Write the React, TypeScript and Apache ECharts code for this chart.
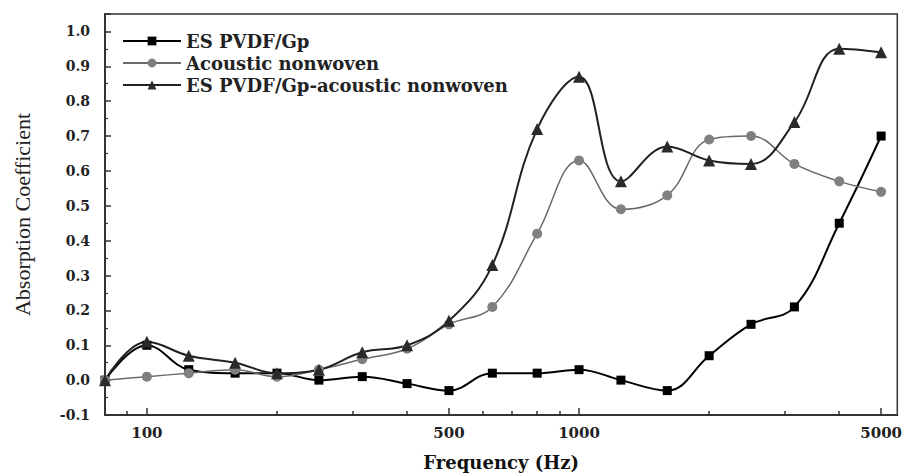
import React, { useEffect, useRef } from "react";
import * as echarts from "echarts";

const frequencies = [80, 100, 125, 160, 200, 250, 315, 400, 500, 630, 800, 1000, 1250, 1600, 2000, 2500, 3150, 4000, 5000];
const esPvdfGp = [0.0, 0.1, 0.03, 0.02, 0.02, 0.0, 0.01, -0.01, -0.03, 0.02, 0.02, 0.03, 0.0, -0.03, 0.07, 0.16, 0.21, 0.45, 0.7];
const acousticNonwoven = [0.0, 0.01, 0.02, 0.03, 0.01, 0.03, 0.06, 0.09, 0.16, 0.21, 0.42, 0.63, 0.49, 0.53, 0.69, 0.7, 0.62, 0.57, 0.54];
const composite = [0.0, 0.11, 0.07, 0.05, 0.02, 0.03, 0.08, 0.1, 0.17, 0.33, 0.72, 0.87, 0.57, 0.67, 0.63, 0.62, 0.74, 0.95, 0.94];
const seriesNames = ["ES PVDF/Gp", "Acoustic nonwoven", "ES PVDF/Gp-acoustic nonwoven"];
const majorTicks = [100, 500, 1000, 5000];
const minorTicks = [90, 200, 300, 400, 600, 700, 800, 900, 2000, 3000, 4000];
const xMin = 80;
const xMax = 5450;

const toPairs = (vals: number[]) => frequencies.map((f, i) => [Math.log10(f), vals[i]]);

export default function App() {
  const ref = useRef<HTMLDivElement>(null);
  useEffect(() => {
    if (!ref.current) return;
    const chart = echarts.init(ref.current, undefined, { renderer: "svg" });
    const axisColor = "#333";
    const bold = { fontFamily: "DejaVu Serif", fontWeight: "bold" as const, color: "#222" };
    const commonX = {
      type: "value" as const,
      min: Math.log10(xMin),
      max: Math.log10(xMax),
      splitLine: { show: false },
    };
    chart.setOption({
      animation: false,
      backgroundColor: "#fff",
      grid: { left: 105, right: 5, top: 14, bottom: 52, show: true, borderColor: axisColor, borderWidth: 1.5, backgroundColor: "transparent" },
      legend: {
        orient: "vertical",
        left: 117,
        top: 27,
        itemWidth: 58,
        itemHeight: 11,
        itemGap: 4,
        textStyle: { ...bold, fontSize: 18 },
        data: seriesNames,
      },
      xAxis: [
        {
          ...commonX,
          name: "Frequency (Hz)",
          nameLocation: "middle",
          nameGap: 38,
          nameTextStyle: { ...bold, fontSize: 18, color: "#111" },
          axisLine: { onZero: false, lineStyle: { color: axisColor, width: 2 } },
          axisTick: { show: true, inside: true, length: 7, customValues: majorTicks.map(Math.log10), lineStyle: { color: axisColor, width: 1.5 } },
          axisLabel: {
            ...bold,
            fontSize: 15,
            margin: 10,
            customValues: majorTicks.map(Math.log10),
            formatter: (v: number) => String(Math.round(Math.pow(10, v))),
          },
        },
        {
          ...commonX,
          position: "bottom",
          axisLine: { show: false, onZero: false },
          axisTick: { show: true, inside: true, length: 4, customValues: minorTicks.map(Math.log10), lineStyle: { color: axisColor, width: 1.5 } },
          axisLabel: { show: false },
        },
      ],
      yAxis: {
        type: "value",
        min: -0.1,
        max: 1.05,
        interval: 0.1,
        name: "Absorption Coefficient",
        nameLocation: "middle",
        nameGap: 72,
        nameTextStyle: { fontFamily: "Liberation Serif", fontSize: 22, color: "#222" },
        splitLine: { show: false },
        axisLine: { show: true, onZero: false, lineStyle: { color: axisColor, width: 2 } },
        axisTick: { show: true, inside: true, length: 6, lineStyle: { color: axisColor, width: 1.5 } },
        minorTick: { show: true, splitNumber: 2, length: 3, lineStyle: { color: axisColor, width: 1.2 } },
        axisLabel: {
          ...bold,
          fontSize: 14,
          margin: 15,
          formatter: (v: number) => (Math.abs(v * 10 - Math.round(v * 10)) < 1e-6 ? v.toFixed(1) : ""),
        },
      },
      series: [
        {
          name: seriesNames[0],
          type: "line",
          smooth: 0.4,
          data: toPairs(esPvdfGp),
          symbol: "rect",
          symbolSize: 9,
          itemStyle: { color: "#000" },
          lineStyle: { color: "#000", width: 2 },
        },
        {
          name: seriesNames[1],
          type: "line",
          smooth: 0.4,
          data: toPairs(acousticNonwoven),
          symbol: "circle",
          symbolSize: 10,
          itemStyle: { color: "#808080" },
          lineStyle: { color: "#6a6a6a", width: 1.5 },
        },
        {
          name: seriesNames[2],
          type: "line",
          smooth: 0.4,
          data: toPairs(composite),
          symbol: "triangle",
          symbolSize: 12,
          itemStyle: { color: "#2a2a2a" },
          lineStyle: { color: "#222", width: 2 },
        },
      ],
    });
    return () => chart.dispose();
  }, []);
  return <div ref={ref} style={{ width: 905, height: 476, position: "absolute", left: 0, top: 0 }} />;
}
